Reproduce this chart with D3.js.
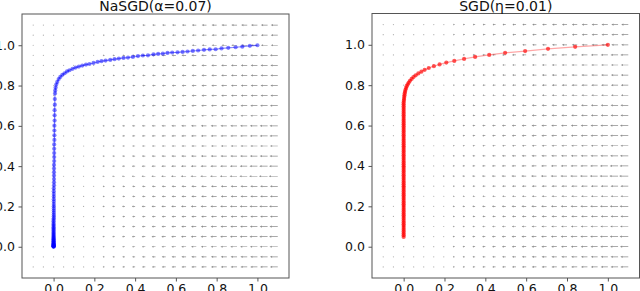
<!DOCTYPE html>
<html>
<head>
<meta charset="utf-8">
<script src="https://cdn.jsdelivr.net/npm/d3@7"></script>
<style>
  body { margin: 0; background: #fff; }
  svg text { font-family: "DejaVu Sans", sans-serif; fill: #111; }
</style>
</head>
<body>
<div id="chart"></div>
<script>
// ---- data ----
const titles = ["NaSGD(\u03b1=0.07)", "SGD(\u03b7=0.01)"];
const tickVals = [0.0, 0.2, 0.4, 0.6, 0.8, 1.0];

// quiver grid (same for both panels)
const gridVals = [-0.1, -0.05, 0, 0.05, 0.1, 0.15, 0.2, 0.25, 0.3, 0.35, 0.4, 0.45, 0.5,
                  0.55, 0.6, 0.65, 0.7, 0.75, 0.8, 0.85, 0.9, 0.95, 1.0, 1.05, 1.1];
// gradient magnitude per column (arrows point to -x)
const colMag = [0, 0, 0, 0.05, 0.1, 0.15, 0.2, 0.25, 0.3, 0.35, 0.4, 0.45, 0.5,
                0.55, 0.6, 0.65, 0.7, 0.75, 0.8, 0.85, 0.9, 0.95, 1.0, 1.05, 1.1];
// noise factor per row (bottom row first)
const rowScale = [0.95, 0.95, 1.0, 1.05, 1.0, 0.95, 1.05, 0.95, 0.95, 1.1, 1.05, 1.0, 0.95,
                  1.0, 1.0, 0.95, 0.95, 0.9, 0.9, 0.9, 0.9, 0.95, 0.85, 0.85, 0.85];

// NaSGD trajectory [x, y]
const nasgdPath = [
  [1.000,1.000],[0.963,0.997],[0.926,0.993],[0.893,0.990],[0.857,0.987],[0.824,0.984],[0.795,0.980],
  [0.766,0.979],[0.738,0.977],[0.709,0.974],[0.683,0.972],[0.657,0.969],[0.633,0.967],[0.608,0.965],
  [0.582,0.964],[0.559,0.962],[0.536,0.958],[0.513,0.957],[0.490,0.955],[0.463,0.950],[0.438,0.949],
  [0.414,0.946],[0.389,0.942],[0.365,0.939],[0.343,0.937],[0.320,0.934],[0.299,0.931],[0.278,0.927],
  [0.255,0.924],[0.235,0.921],[0.216,0.917],[0.196,0.912],[0.176,0.907],[0.159,0.904],[0.141,0.899],
  [0.124,0.894],[0.108,0.889],[0.093,0.883],[0.078,0.876],[0.066,0.870],[0.054,0.861],[0.043,0.853],
  [0.033,0.843],[0.025,0.832],[0.018,0.818],[0.013,0.805],[0.010,0.790],[0.008,0.776],[0.007,0.761],
  [0.006,0.733],[0.006,0.705],[0.005,0.678],[0.005,0.652],[0.005,0.626],[0.004,0.601],[0.004,0.577],
  [0.004,0.553],[0.004,0.530],[0.003,0.508],[0.003,0.486],[0.003,0.465],[0.003,0.445],[0.003,0.425],
  [0.002,0.406],[0.002,0.388],[0.002,0.370],[0.002,0.353],[0.002,0.336],[0.002,0.320],[0.002,0.305],
  [0.001,0.290],[0.001,0.276],[0.001,0.262],[0.001,0.249],[0.001,0.236],[0.001,0.224],[0.001,0.212],
  [0.001,0.201],[0.001,0.190],[0.001,0.180],[0.001,0.170],[0.001,0.160],[0.001,0.151],[0.001,0.142],
  [0,0.134],[0,0.126],[0,0.118],[0,0.111],[0,0.104],[0,0.097],[0,0.091],[0,0.085],[0,0.079],[0,0.073],
  [0,0.068],[0,0.063],[0,0.058],[0,0.053],[0,0.049],[0,0.045],[0,0.041],[0,0.037],[0,0.033],[0,0.030],
  [0,0.027],[0,0.024],[0,0.021],[0,0.018],[0,0.015],[0,0.013],[0,0.011],[0,0.009],[0,0.007],[0,0.005],
  [0,0.004],[0,0.003],[0,0.002],[0,0.001],[0,0.000]
];

// SGD trajectory [x, y]
const sgdPath = [
  [1.000,1.000],[0.840,0.990],[0.707,0.980],[0.595,0.969],[0.497,0.960],[0.419,0.950],[0.350,0.940],
  [0.296,0.930],[0.248,0.920],[0.209,0.912],[0.176,0.903],[0.148,0.894],[0.123,0.885],[0.103,0.876],
  [0.087,0.867],[0.072,0.858],[0.059,0.849],[0.048,0.840],[0.039,0.831],[0.031,0.822],[0.025,0.813],
  [0.020,0.804],[0.015,0.795],[0.012,0.786],[0.009,0.777],[0.007,0.768],[0.005,0.759],[0.004,0.750],
  [0.003,0.741],[0.002,0.732],[0.001,0.723],
  [0,0.714],[0,0.705],[0,0.696],[0,0.687],[0,0.678],[0,0.669],[0,0.660],[0,0.651],[0,0.642],[0,0.633],
  [0,0.624],[0,0.615],[0,0.606],[0,0.597],[0,0.588],[0,0.579],[0,0.570],[0,0.561],[0,0.552],[0,0.543],
  [0,0.534],[0,0.525],[0,0.516],[0,0.507],[0,0.498],[0,0.489],[0,0.480],[0,0.471],[0,0.462],[0,0.453],
  [0,0.444],[0,0.435],[0,0.426],[0,0.417],[0,0.408],[0,0.399],[0,0.390],[0,0.381],[0,0.372],[0,0.363],
  [0,0.354],[0,0.345],[0,0.336],[0,0.327],[0,0.318],[0,0.309],[0,0.300],[0,0.291],[0,0.282],[0,0.273],
  [0,0.264],[0,0.255],[0,0.246],[0,0.237],[0,0.228],[0,0.219],[0,0.210],[0,0.201],[0,0.192],[0,0.183],
  [0,0.174],[0,0.165],[0,0.156],[0,0.147],[0,0.138],[0,0.129],[0,0.120],[0,0.111],[0,0.102],[0,0.093],
  [0,0.084],[0,0.075],[0,0.066],[0,0.057],[0,0.048]
];

// ---- layout ----
const svgWidth = 640, svgHeight = 291;
const domain = [-0.155, 1.155];
const quiverScale = 0.037;   // data units per unit magnitude

const panels = [
  { left: 22,  right: 289,   top: 14,   bottom: 278, path: nasgdPath, color: "#0000ff", lineOp: 0.45, dotOp: 0.5 },
  { left: 372, right: 639.5, top: 13.5, bottom: 278, path: sgdPath,   color: "#ff0000", lineOp: 0.35, dotOp: 0.65 }
];

const svg = d3.select("#chart").append("svg")
  .attr("width", svgWidth).attr("height", svgHeight);

panels.forEach((p, pi) => {
  const x = d3.scaleLinear().domain(domain).range([p.left, p.right]);
  const y = d3.scaleLinear().domain(domain).range([p.bottom, p.top]);
  const g = svg.append("g");

  // quiver field
  const arrows = [];
  gridVals.forEach((gy, j) => {
    gridVals.forEach((gx, i) => {
      arrows.push({ gx, gy, u: -colMag[i] * rowScale[j] * quiverScale });
    });
  });
  const qg = g.append("g");
  arrows.forEach(a => {
    const tx = x(a.gx), ty = y(a.gy);
    const len = Math.abs(x(a.u) - x(0));
    if (len < 1.6) {
      qg.append("circle").attr("cx", tx - len / 2).attr("cy", ty).attr("r", 0.6)
        .attr("fill", "#777").attr("fill-opacity", 0.6);
    } else {
      const hx = tx - len, hl = Math.min(2.2, len * 0.45);
      const d = `M${tx},${ty - 0.35}L${hx + hl},${ty - 0.35}L${hx + hl},${ty - 1.1}` +
                `L${hx},${ty}L${hx + hl},${ty + 1.1}L${hx + hl},${ty + 0.35}L${tx},${ty + 0.35}Z`;
      qg.append("path").attr("d", d).attr("fill", "#444").attr("fill-opacity", 0.6);
    }
  });

  // trajectory
  const line = d3.line().x(d => x(d[0])).y(d => y(d[1]));
  g.append("path").datum(p.path).attr("d", line)
    .attr("fill", "none").attr("stroke", p.color)
    .attr("stroke-opacity", p.lineOp).attr("stroke-width", 1.2);
  g.append("g").selectAll("circle").data(p.path).join("circle")
    .attr("cx", d => x(d[0])).attr("cy", d => y(d[1])).attr("r", 2.1)
    .attr("fill", p.color).attr("fill-opacity", p.dotOp);

  // frame
  g.append("rect").attr("x", p.left).attr("y", p.top)
    .attr("width", p.right - p.left).attr("height", p.bottom - p.top)
    .attr("fill", "none").attr("stroke", "#555").attr("stroke-width", 1);

  // axes
  const fmt = d3.format(".1f");
  const xAxis = g.append("g").attr("transform", `translate(0,${p.bottom})`)
    .call(d3.axisBottom(x).tickValues(tickVals).tickFormat(fmt).tickSize(3.5).tickPadding(3));
  const yAxis = g.append("g").attr("transform", `translate(${p.left},0)`)
    .call(d3.axisLeft(y).tickValues(tickVals).tickFormat(fmt).tickSize(3.5).tickPadding(3.5));
  [xAxis, yAxis].forEach(ax => {
    ax.select(".domain").remove();
    ax.selectAll("line").attr("stroke", "#555");
    ax.selectAll("text").style("font-size", "12.5px").attr("fill", "#111")
      .style("font-family", "'DejaVu Sans', sans-serif");
  });

  // title
  g.append("text").attr("x", (p.left + p.right) / 2).attr("y", 10.5)
    .attr("text-anchor", "middle").style("font-size", "14px").text(titles[pi]);
});
</script>
</body>
</html>
